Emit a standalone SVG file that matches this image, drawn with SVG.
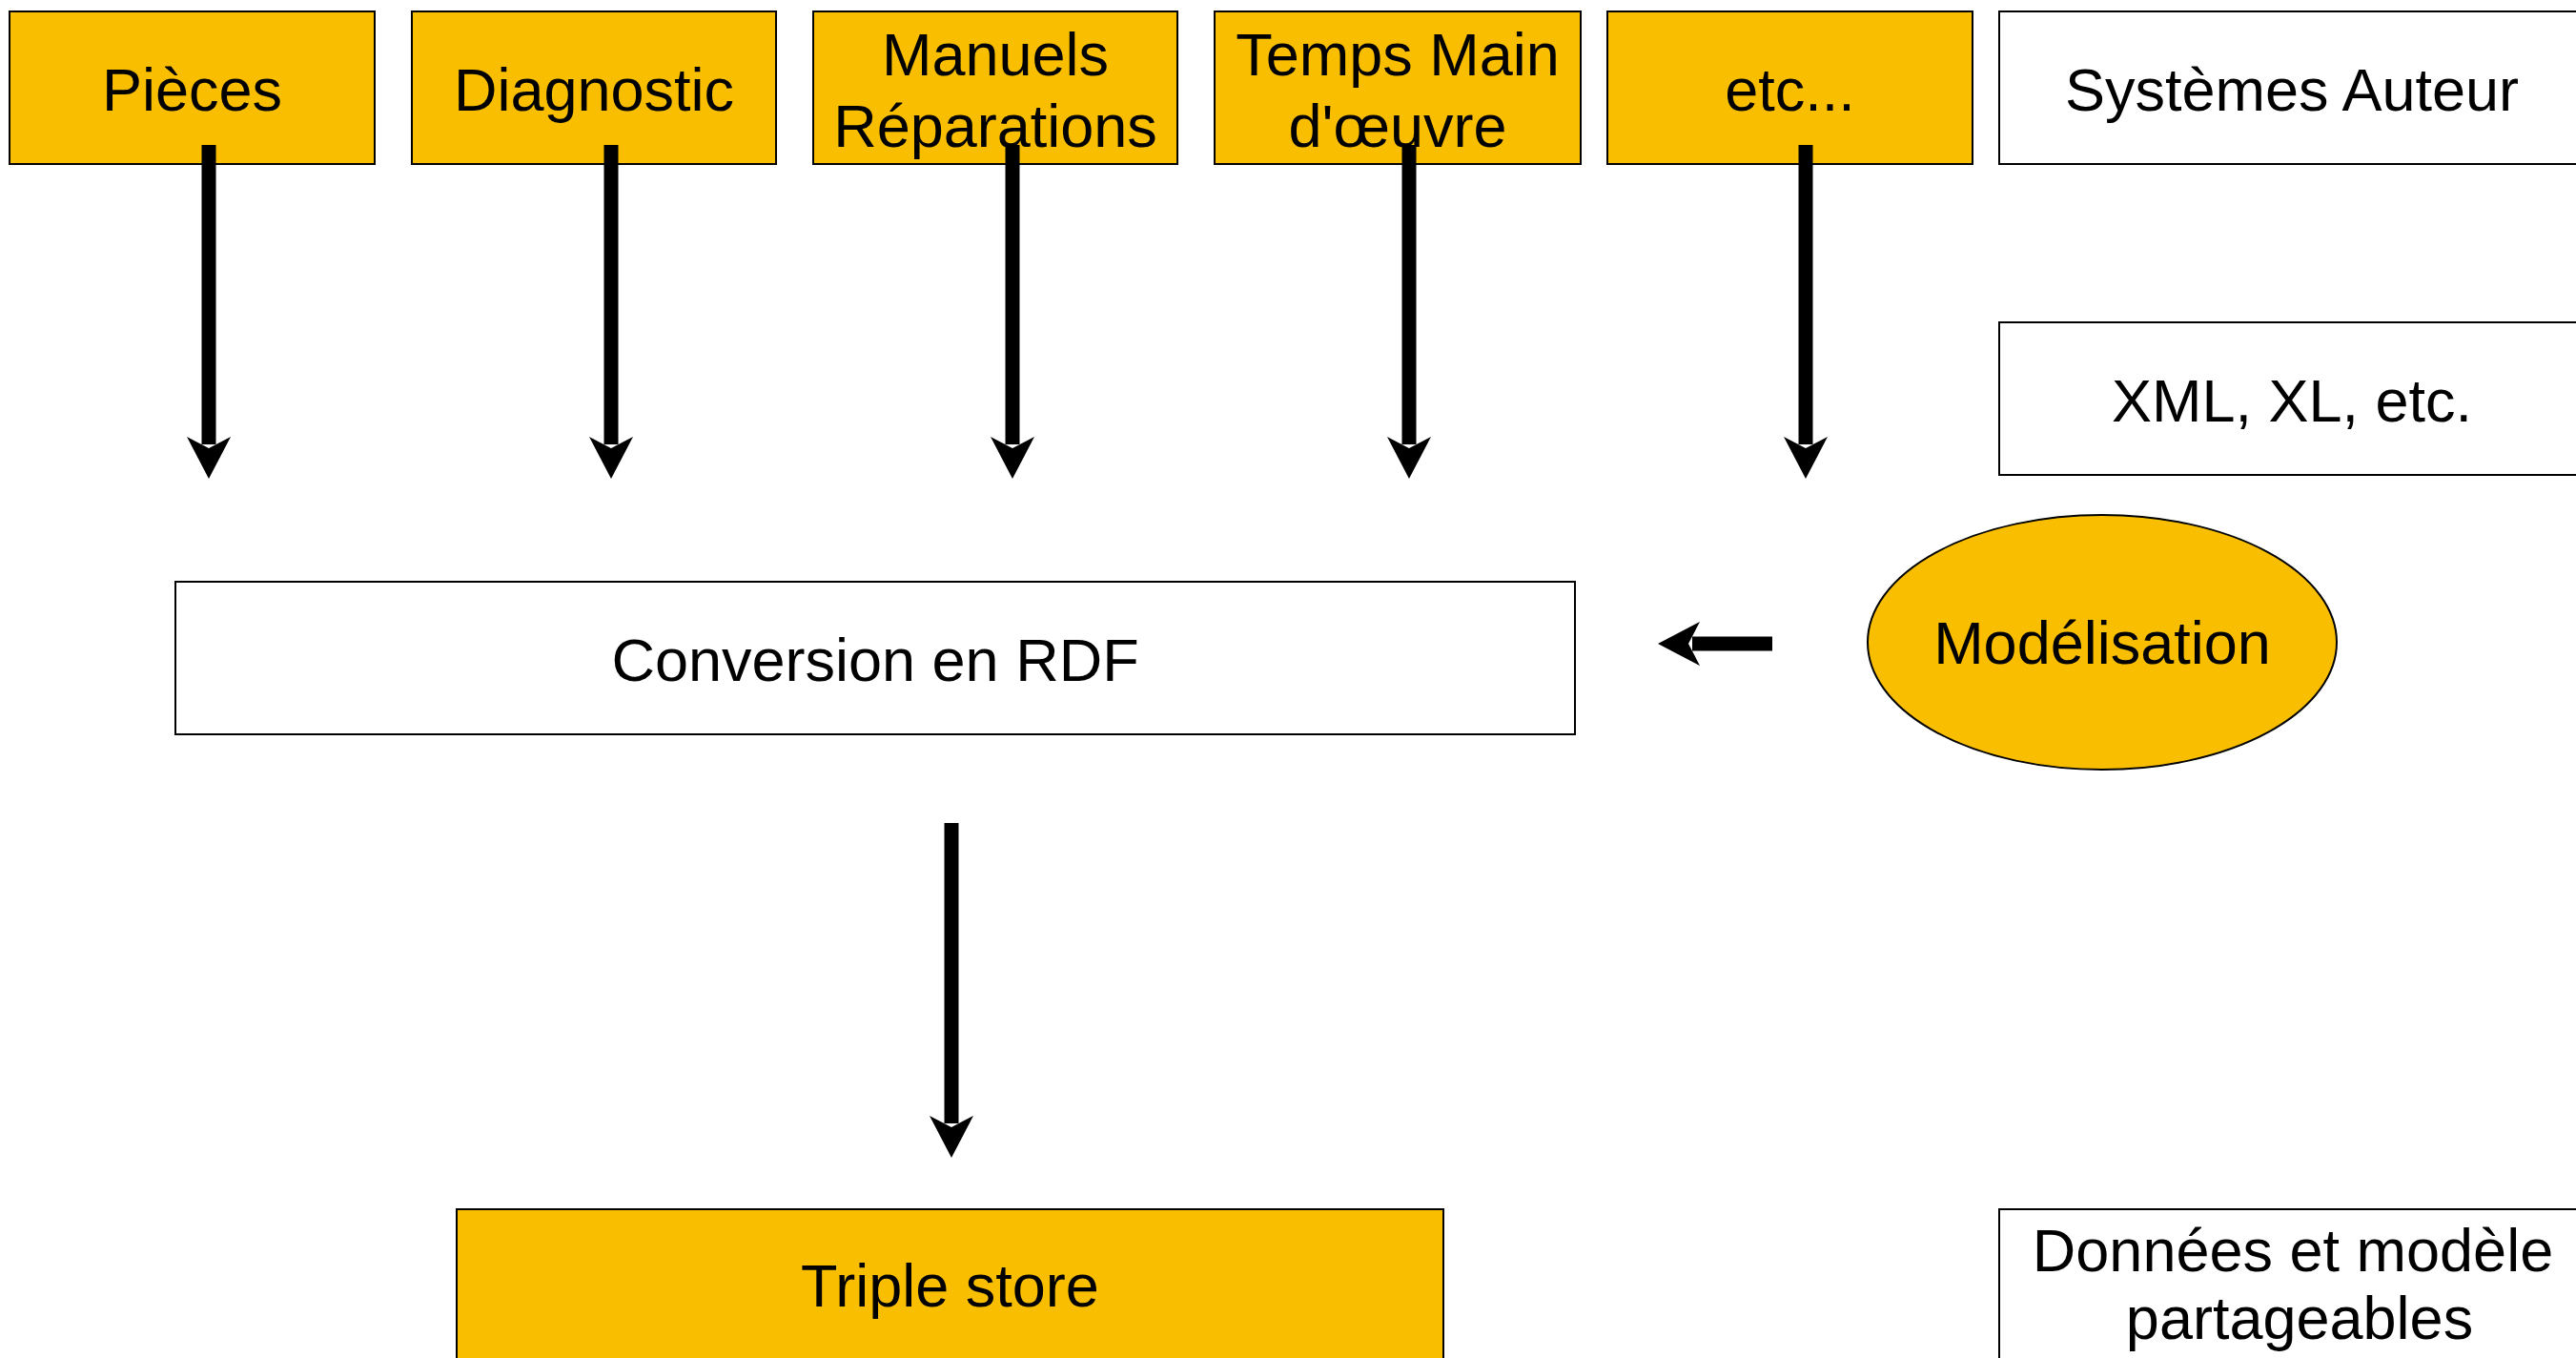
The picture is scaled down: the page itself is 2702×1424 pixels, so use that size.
<svg xmlns="http://www.w3.org/2000/svg" width="2702" height="1424" viewBox="0 0 2702 1424">
<style>
.box{stroke:#000;stroke-width:2}
.y{fill:#f9be00}
.w{fill:#fff}
.t{font-family:"Liberation Sans",Arial,sans-serif;font-size:63px;fill:#000;text-anchor:middle}
.c{stroke:#000;stroke-width:15;fill:none;marker-end:url(#ah)}
</style>
<defs>
<marker id="ah" markerUnits="userSpaceOnUse" viewBox="-15 -25 50 50" refX="-4" refY="0" markerWidth="50" markerHeight="50" orient="auto" overflow="visible">
<path d="M32,0 L-12,-23 L0,0 L-12,23 Z" fill="#000"/>
</marker>
</defs>
<rect width="2702" height="1424" fill="#fff"/>
<g id="pieces"><rect class="box y" x="10" y="12" width="383" height="160"/><text class="t" x="201.5" y="116">Pièces</text></g>
<g id="diagnostic"><rect class="box y" x="432" y="12" width="382" height="160"/><text class="t" x="623" y="116">Diagnostic</text></g>
<g id="manuels"><rect class="box y" x="853" y="12" width="382" height="160"/><text class="t" x="1044" y="79">Manuels</text><text class="t" x="1044" y="154">Réparations</text></g>
<g id="temps"><rect class="box y" x="1274" y="12" width="384" height="160"/><text class="t" x="1466" y="79">Temps Main</text><text class="t" x="1466" y="154">d'œuvre</text></g>
<g id="etc"><rect class="box y" x="1686" y="12" width="383" height="160"/><text class="t" x="1877.5" y="116">etc...</text></g>
<g id="systemes"><rect class="box w" x="2097" y="12" width="614" height="160"/><text class="t" x="2404" y="116">Systèmes Auteur</text></g>
<g id="xml"><rect class="box w" x="2097" y="338" width="614" height="160"/><text class="t" x="2404" y="442">XML, XL, etc.</text></g>
<g id="conversion"><rect class="box w" x="184" y="610" width="1468" height="160"/><text class="t" x="918" y="714">Conversion en RDF</text></g>
<g id="modelisation"><ellipse class="box y" cx="2205" cy="673.5" rx="246" ry="133.5"/><text class="t" x="2205" y="696">Modélisation</text></g>
<g id="triplestore"><rect class="box y" x="479" y="1268" width="1035" height="160"/><text class="t" x="996.5" y="1370">Triple store</text></g>
<g id="donnees"><rect class="box w" x="2097" y="1268" width="614" height="160"/><text class="t" x="2405" y="1333">Données et modèle</text><text class="t" x="2412" y="1404">partageables</text></g>
<g id="connectors">
<line class="c" x1="219" y1="152" x2="219" y2="466"/>
<line class="c" x1="641" y1="152" x2="641" y2="466"/>
<line class="c" x1="1062" y1="152" x2="1062" y2="466"/>
<line class="c" x1="1478" y1="152" x2="1478" y2="466"/>
<line class="c" x1="1894" y1="152" x2="1894" y2="466"/>
<line class="c" x1="1859" y1="675" x2="1775" y2="675"/>
<line class="c" x1="998" y1="863" x2="998" y2="1178"/>
</g>
</svg>
